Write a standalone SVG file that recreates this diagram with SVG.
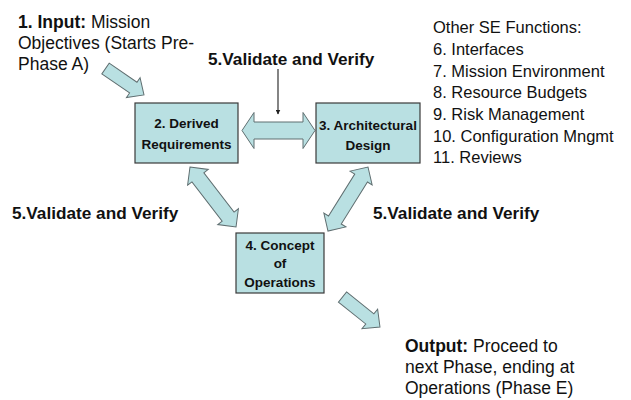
<svg xmlns="http://www.w3.org/2000/svg" width="631" height="400" viewBox="0 0 631 400">
<defs>
<style>
.box{fill:#b9e0e2;stroke:#3a3a3a;stroke-width:1.2}
.blk{fill:#b9e0e2;stroke:#5f6e70;stroke-width:1}
.bt{font-family:"Liberation Sans",Arial,sans-serif;font-weight:bold;font-size:13.5px;fill:#111;text-anchor:middle}
.lbl{font-family:"Liberation Sans",Arial,sans-serif;font-size:17.5px;fill:#111}
.vv{font-family:"Liberation Sans",Arial,sans-serif;font-weight:bold;font-size:17.2px;fill:#111}
.se{font-family:"Liberation Sans",Arial,sans-serif;font-size:16.5px;fill:#111}
</style>
<marker id="ah" viewBox="0 0 10 10" refX="9" refY="5" markerWidth="5" markerHeight="5" orient="auto" markerUnits="userSpaceOnUse">
<path d="M0,0 L10,5 L0,10 z" fill="#222"/>
</marker>
</defs>
<rect width="631" height="400" fill="#fff"/>

<g id="connectors">
<polygon class="blk" transform="translate(105.5,68.5) rotate(34.5)" points="0,-6.5 33.7,-6.5 33.7,-12 46.7,0 33.7,12 33.7,6.5 0,6.5"/>
<polygon class="blk" points="242,130.5 254,112.5 254,122 303,122 303,112.5 315,130.5 303,148.5 303,139 254,139 254,148.5"/>
<polygon class="blk" transform="translate(190,167) rotate(52.5)" points="0,0 13,-13 13,-7.5 62.6,-7.5 62.6,-13 75.6,0 62.6,13 62.6,7.5 13,7.5 13,13"/>
<polygon class="blk" transform="translate(368,167) rotate(122)" points="0,0 13,-13 13,-7.5 62.5,-7.5 62.5,-13 75.5,0 62.5,13 62.5,7.5 13,7.5 13,13"/>
<polygon class="blk" transform="translate(342.5,297) rotate(38.7)" points="0,-6.5 35,-6.5 35,-12.5 48,0 35,12.5 35,6.5 0,6.5"/>
<line x1="278" y1="69" x2="278" y2="114" stroke="#333" stroke-width="1.2" marker-end="url(#ah)"/>
</g>

<g id="input">
<text class="lbl" x="18" y="28"><tspan font-weight="bold">1. Input:</tspan> Mission</text>
<text class="lbl" x="18" y="49">Objectives (Starts Pre-</text>
<text class="lbl" x="18" y="70">Phase A)</text>
</g>

<g id="validate-top"><text class="vv" x="208" y="65">5.Validate and Verify</text></g>
<g id="validate-left"><text class="vv" x="12" y="219">5.Validate and Verify</text></g>
<g id="validate-right"><text class="vv" x="373" y="219">5.Validate and Verify</text></g>

<g id="derived">
<rect class="box" x="135" y="103" width="103" height="60"/>
<text class="bt" x="186.5" y="128">2. Derived</text>
<text class="bt" x="186.5" y="149">Requirements</text>
</g>

<g id="architectural">
<rect class="box" x="316" y="103" width="104" height="60"/>
<text class="bt" x="368" y="130">3. Architectural</text>
<text class="bt" x="368" y="150">Design</text>
</g>

<g id="conops">
<rect class="box" x="236" y="233" width="88" height="60"/>
<text class="bt" x="280" y="250">4. Concept</text>
<text class="bt" x="280" y="268">of</text>
<text class="bt" x="280" y="287">Operations</text>
</g>

<g id="other-se">
<text class="se" x="433" y="33">Other SE Functions:</text>
<text class="se" x="433" y="55">6. Interfaces</text>
<text class="se" x="433" y="77">7. Mission Environment</text>
<text class="se" x="433" y="98">8. Resource Budgets</text>
<text class="se" x="433" y="120">9. Risk Management</text>
<text class="se" x="433" y="142">10. Configuration Mngmt</text>
<text class="se" x="433" y="163">11. Reviews</text>
</g>

<g id="output">
<text class="lbl" x="405" y="352"><tspan font-weight="bold">Output:</tspan> Proceed to</text>
<text class="lbl" x="405" y="373">next Phase, ending at</text>
<text class="lbl" x="405" y="394">Operations (Phase E)</text>
</g>
</svg>
